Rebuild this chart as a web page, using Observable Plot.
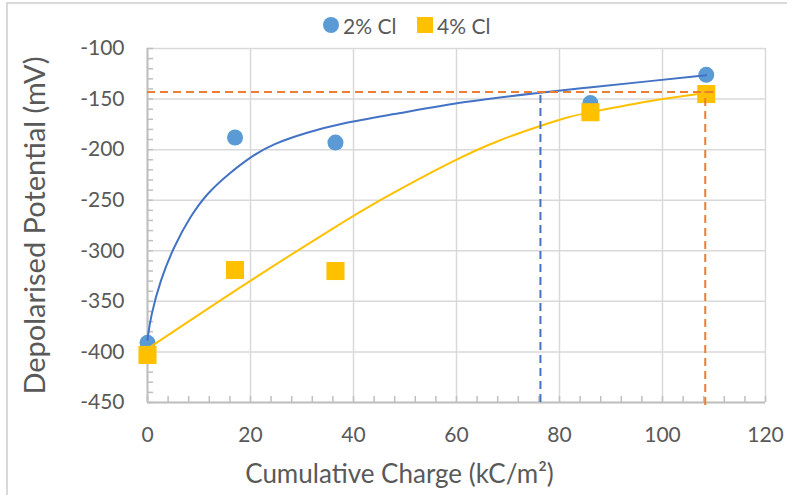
<!DOCTYPE html>
<html>
<head>
<meta charset="utf-8">
<script src="https://cdn.jsdelivr.net/npm/d3@7"></script>
<script src="https://cdn.jsdelivr.net/npm/@observablehq/plot@0.6"></script>
<style>
  html, body { margin: 0; padding: 0; background: #fff; }
  #wrap { position: relative; width: 787px; height: 495px; overflow: hidden; font-family: Lato, sans-serif; color: #595959; }
  #frame { position: absolute; left: 6px; top: 2px; width: 800px; height: 600px; border-left: 2px solid #D9D9D9; border-top: 2px solid #D9D9D9; }
  #legend { position: absolute; top: 0; left: 0; width: 787px; height: 40px; font-size: 21px; }
  .sw { position: absolute; }
  .lt { position: absolute; top: 13px; line-height: 25px; }
  #chart { position: absolute; top: 40px; left: 0; }
</style>
</head>
<body>
<div id="wrap">
  <div id="frame"></div>
  <div id="legend"></div>
  <div id="chart"></div>
</div>
<script>
// ---- data ----
const charge = [0, 17, 36.5, 86, 108.5];           // kC/m²
const cl2 = [-391, -188, -193, -154, -126];         // 2% Cl depolarised potential (mV)
const cl4 = [-403, -319, -320, -163, -145];         // 4% Cl depolarised potential (mV)

// fitted trend curves
const trend2X = [0, 0.6, 2.5, 5.1, 8.3, 11.6, 15.5, 20, 24.5, 31, 37.5, 48.5, 61.4, 76.2, 86, 97, 108.5];
const trend2Y = [-388, -365, -329, -296, -266, -243, -225, -207, -194, -183, -174, -164.5, -152.5, -143.5, -138.5, -132.5, -126.5];
const trend4X = [0, 20, 37.5, 45, 60, 68, 76, 82, 86, 98, 108.3];
const trend4Y = [-397, -329, -273, -250, -209, -191, -177, -167, -163, -151, -144];

// reference guide lines
const guideLevel = -143;
const guideSpan = [0, 110];
const guideCharges = [76.3, 108.3];
const guideBottoms = [-450, -453];

const seriesNames = ["2% Cl", "4% Cl"];
const xTicks = [0, 20, 40, 60, 80, 100, 120];
const yTicks = [-450, -400, -350, -300, -250, -200, -150, -100];
const xMinor = d3.range(0, 121, 4);
const yMinor = d3.range(-450, -99, 10);
const xTitle = "Cumulative Charge (kC/m²)";
const yTitle = "Depolarised Potential (mV)";

// ---- styling ----
const blueDot = "#5B9BD5", blueLine = "#4472C4", gold = "#FFC000", orange = "#ED7D31";
const textColor = "#595959";

const pts2 = charge.map((x, i) => ({x, y: cl2[i]}));
const pts4 = charge.map((x, i) => ({x, y: cl4[i]}));
const tr2 = trend2X.map((x, i) => ({x, y: trend2Y[i]}));
const tr4 = trend4X.map((x, i) => ({x, y: trend4Y[i]}));
const vGuides = guideCharges.map((x, i) => ({x, y1: guideBottoms[i], y2: guideLevel, c: i === 0 ? blueLine : orange}));

const chart = Plot.plot({
  width: 787,
  height: 455,
  marginLeft: 147,
  marginRight: 22,
  marginTop: 8,
  marginBottom: 93,
  x: {domain: [0, 120]},
  y: {domain: [-450, -100]},
  style: {fontFamily: "Lato, sans-serif", fontSize: "21px", color: textColor, background: "transparent", overflow: "visible"},
  marks: [
    Plot.gridX(xTicks, {stroke: "#D9D9D9", strokeOpacity: 1, strokeWidth: 1.5}),
    Plot.gridY(yTicks, {stroke: "#D9D9D9", strokeOpacity: 1, strokeWidth: 1.5}),
    Plot.axisX(xMinor, {tickSize: -6, tickFormat: () => "", stroke: "#BFBFBF", strokeWidth: 1.5, label: null}),
    Plot.axisY(yMinor, {tickSize: -6, tickFormat: () => "", stroke: "#BFBFBF", strokeWidth: 1.5, label: null}),
    Plot.ruleX([0], {stroke: "#BFBFBF", strokeWidth: 2}),
    Plot.ruleY([-450], {stroke: "#BFBFBF", strokeWidth: 2}),
    Plot.axisX(xTicks, {tickSize: 0, tickPadding: 25, tickFormat: d => String(d), label: null, fill: textColor}),
    Plot.axisY(yTicks, {tickSize: 0, tickPadding: 23, tickFormat: d => String(d), label: null, fill: textColor}),
    Plot.dot(pts2, {x: "x", y: "y", r: 8, fill: blueDot, symbol: "circle"}),
    Plot.dot(pts4, {x: "x", y: "y", r: 10.2, fill: gold, symbol: "square"}),
    Plot.line(tr2, {x: "x", y: "y", curve: "basis", stroke: blueLine, strokeWidth: 2}),
    Plot.line(tr4, {x: "x", y: "y", curve: "basis", stroke: gold, strokeWidth: 2}),
    Plot.ruleY([guideLevel], {x1: guideSpan[0], x2: guideSpan[1], stroke: orange, strokeWidth: 2, strokeDasharray: "8,5"}),
    Plot.ruleX(vGuides, {x: "x", y1: "y1", y2: "y2", stroke: "c", strokeWidth: 2, strokeDasharray: "8,5"}),
    Plot.text([xTitle], {frameAnchor: "bottom", textAnchor: "middle", dx: -57, dy: 80, fontSize: 26, fill: textColor}),
    Plot.text([yTitle], {frameAnchor: "left", textAnchor: "middle", dx: -112, dy: 0, rotate: -90, fontSize: 29, fill: textColor})
  ]
});
document.getElementById("chart").appendChild(chart);

// ---- legend ----
const legend = document.getElementById("legend");
const items = [
  {name: seriesNames[0], color: blueDot, shape: "circle", sx: 323, tx: 343},
  {name: seriesNames[1], color: gold, shape: "square", sx: 417, tx: 437}
];
for (const it of items) {
  const sw = document.createElement("div");
  sw.className = "sw";
  sw.style.left = it.sx + "px";
  sw.style.top = "17px";
  sw.style.width = "16px";
  sw.style.height = "16px";
  sw.style.background = it.color;
  if (it.shape === "circle") sw.style.borderRadius = "50%";
  legend.appendChild(sw);
  const t = document.createElement("div");
  t.className = "lt";
  t.style.left = it.tx + "px";
  t.textContent = it.name;
  legend.appendChild(t);
}
</script>
</body>
</html>
